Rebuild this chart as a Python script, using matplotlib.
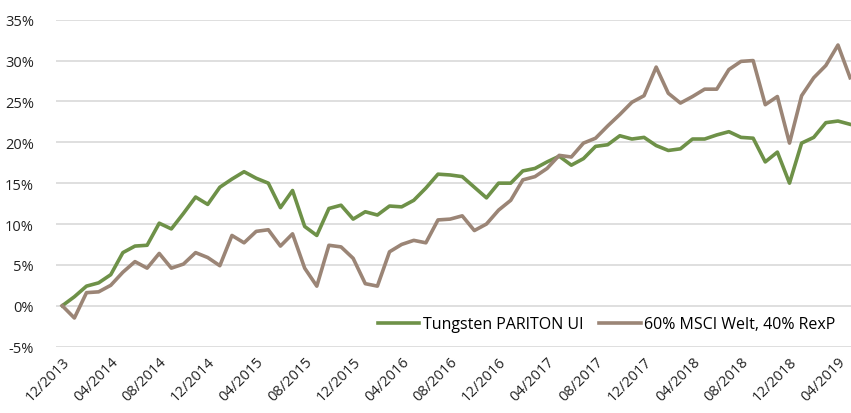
import matplotlib
matplotlib.use("Agg")
import matplotlib.pyplot as plt

plt.rcParams['font.family'] = ['Open Sans', 'DejaVu Sans']

# monthly performance, 12/2013 .. 05/2019 (in %)
tungsten = [0, 1.1, 2.4, 2.8, 3.8, 6.5, 7.3, 7.4, 10.1, 9.4, 11.3, 13.3, 12.4, 14.5,
            15.5, 16.4, 15.6, 15.0, 12.0, 14.1, 9.7, 8.6, 11.9, 12.3, 10.6, 11.5,
            11.1, 12.2, 12.1, 12.9, 14.4, 16.1, 16.0, 15.8, 14.5, 13.2, 15.0, 15.0,
            16.5, 16.8, 17.6, 18.3, 17.2, 18.0, 19.5, 19.7, 20.8, 20.4, 20.6, 19.6,
            19.0, 19.2, 20.4, 20.4, 20.9, 21.3, 20.6, 20.5, 17.6, 18.8, 15.0, 19.9,
            20.6, 22.4, 22.6, 22.2]
benchmark = [0, -1.5, 1.6, 1.7, 2.5, 4.1, 5.4, 4.6, 6.4, 4.6, 5.1, 6.5, 5.9, 4.9,
             8.6, 7.7, 9.1, 9.3, 7.3, 8.8, 4.6, 2.4, 7.4, 7.2, 5.8, 2.7, 2.4, 6.6,
             7.5, 8.0, 7.7, 10.5, 10.6, 11.0, 9.2, 10.0, 11.7, 12.9, 15.4, 15.8,
             16.8, 18.4, 18.2, 19.9, 20.5, 22.0, 23.4, 24.9, 25.7, 29.2, 26.0, 24.8,
             25.6, 26.5, 26.5, 28.9, 29.9, 30.0, 24.6, 25.6, 19.9, 25.7, 27.9, 29.4,
             31.9, 27.9]

tick_labels = ["12/2013", "04/2014", "08/2014", "12/2014", "04/2015", "08/2015",
               "12/2015", "04/2016", "08/2016", "12/2016", "04/2017", "08/2017",
               "12/2017", "04/2018", "08/2018", "12/2018", "04/2019"]
y_ticks = [-5, 0, 5, 10, 15, 20, 25, 30, 35]

x = list(range(len(tungsten)))

fig = plt.figure(figsize=(8.51, 4.14), dpi=100)
ax = fig.add_axes([56.2 / 851, (414 - 347.6) / 414, 1 - 56.2 / 851, (347.6 - 20.7) / 414])

ax.plot(x, tungsten, color="#6E9148", lw=2.6, label="Tungsten PARITON UI", zorder=3)
ax.plot(x, benchmark, color="#9B8576", lw=2.6, label="60% MSCI Welt, 40% RexP", zorder=3)

ax.set_xlim(-0.5, (851 - 62.3) / 12.12)
ax.set_ylim(-5, 35)
ax.set_yticks(y_ticks)
ax.set_yticklabels([f"{v}%" for v in y_ticks], fontsize=10.5, color="#222222")
ax.set_xticks(range(0, len(tungsten), 4))
ax.set_xticklabels(tick_labels, rotation=45, ha="right", rotation_mode="anchor",
                   fontsize=10.5, color="#222222")
ax.tick_params(axis="y", length=0, pad=16)
ax.tick_params(axis="x", length=0, pad=5)

ax.grid(axis="y", color="#d9d9d9", lw=1.2, zorder=0)
for s in ax.spines.values():
    s.set_visible(False)

ax.legend(loc="lower right", bbox_to_anchor=(0.998, 0.0), ncol=2, frameon=False,
          fontsize=11.5, handlelength=2.6, handletextpad=0.2, columnspacing=1.0)

fig.savefig("out.png", dpi=100)
